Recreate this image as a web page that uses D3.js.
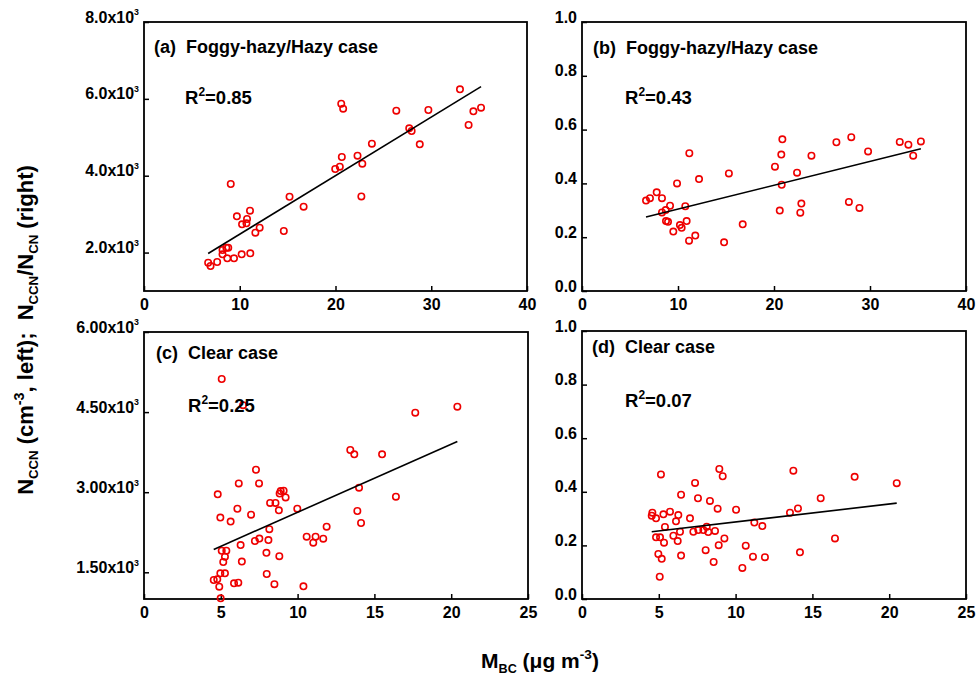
<!DOCTYPE html>
<html>
<head>
<meta charset="utf-8">
<script src="https://cdn.jsdelivr.net/npm/d3@7/dist/d3.min.js"></script>
<style>
body { margin: 0; background: #fff; }
text { font-family: "Liberation Sans", Arial, sans-serif; font-weight: bold; fill: #000; }
</style>
</head>
<body>
<script>
/* global d3 */

// (a) foggy-hazy / hazy case: M_BC vs N_CCN
var hazyBcA = [6.70, 6.95, 7.64, 8.20, 8.20, 8.60, 8.80, 8.70, 9.40, 10.20, 11.10, 9.06, 9.70, 10.24, 10.70, 10.76, 11.07, 11.63, 12.08, 14.60,
    15.20, 16.67, 19.97, 20.45, 20.66, 20.60, 20.80, 22.30, 22.80, 22.70, 23.80, 26.35, 27.70, 27.95, 28.80, 29.70, 33.00, 33.90, 34.40, 35.20];
var hazyNccn = [1737, 1651, 1755, 2067, 1955, 2127, 2127, 1850, 1850, 1955, 1981, 3785, 2944, 2735, 2762, 2874, 3090, 2517, 2647, 2561,
    3453, 3194, 4175, 4235, 4487, 5875, 5744, 4521, 4313, 3462, 4834, 5692, 5234, 5164, 4817, 5710, 6249, 5320, 5676, 5770];

// (b) foggy-hazy / hazy case: M_BC vs N_CCN/N_CN
var hazyBcB = [6.67, 7.08, 7.78, 8.33, 8.33, 8.72, 9.17, 8.75, 8.96, 9.51, 9.90, 10.20, 10.38, 10.76, 10.90, 11.18, 11.15, 11.80, 12.19,
    14.80, 15.30, 16.74, 20.10, 20.60, 20.76, 20.80, 20.87, 22.40, 22.74, 22.85, 23.90, 26.50, 27.80, 28.05, 28.90, 29.80, 33.10, 34.00, 34.50, 35.30];
var hazyRatio = [0.336, 0.345, 0.367, 0.345, 0.292, 0.301, 0.317, 0.260, 0.257, 0.221, 0.400, 0.245, 0.235, 0.315, 0.260, 0.512, 0.187, 0.206, 0.416,
    0.181, 0.437, 0.248, 0.462, 0.299, 0.507, 0.395, 0.564, 0.440, 0.291, 0.325, 0.503, 0.553, 0.331, 0.572, 0.309, 0.519, 0.554, 0.544, 0.503, 0.556];

// (c) clear case: M_BC vs N_CCN
var clearBcC = [5.06, 4.80, 4.97, 5.64, 6.08, 6.17, 6.29, 6.37, 6.97, 7.29, 7.49, 7.22, 7.51, 7.97, 7.99, 8.10, 8.16, 8.21, 8.49, 8.56,
    8.78, 8.81, 8.83, 8.90, 9.09, 9.22, 9.98, 10.38, 10.59, 11.02, 11.17, 11.67, 11.89, 13.43, 13.69, 13.89, 14.00, 14.13, 15.50, 16.40,
    17.66, 20.40, 5.06, 5.36, 5.27, 5.16, 4.97, 5.27, 4.54, 4.77, 4.90, 4.99, 5.86, 6.14, 6.45];
var clearNccn = [5120, 2960, 2525, 2450, 2690, 3165, 2010, 1700, 2580, 3420, 3165, 2086, 2132, 1864, 1468, 2103, 2308, 2800, 1278, 2800,
    2660, 1802, 2975, 3022, 3028, 2903, 2691, 1238, 2167, 2054, 2167, 2130, 2354, 3790, 3710, 2648, 3084, 2423, 3710, 2916,
    4489, 4601, 1904, 1904, 1792, 1693, 1481, 1481, 1356, 1369, 1230, 1012, 1294, 1306, 4630];

// (d) clear case: M_BC vs N_CCN/N_CN
var clearBcD = [4.54, 4.58, 4.82, 5.30, 5.14, 5.73, 6.27, 6.12, 6.45, 5.40, 4.82, 5.08, 5.34, 5.95, 6.23, 6.38, 4.97, 5.19, 5.06, 6.45,
    7.03, 7.36, 7.55, 7.25, 7.57, 7.90, 8.12, 8.22, 8.66, 8.33, 8.83, 8.05, 8.57, 8.90, 9.27, 8.94, 9.16, 10.03, 10.66, 10.44,
    11.13, 11.22, 11.74, 11.91, 13.54, 13.76, 14.06, 14.19, 15.54, 16.47, 17.75, 20.49];
var clearRatio = [0.311, 0.322, 0.301, 0.316, 0.465, 0.326, 0.313, 0.290, 0.389, 0.269, 0.230, 0.230, 0.210, 0.236, 0.216, 0.251, 0.168, 0.150, 0.083, 0.162,
    0.301, 0.433, 0.376, 0.251, 0.257, 0.257, 0.270, 0.250, 0.254, 0.366, 0.337, 0.182, 0.138, 0.201, 0.226, 0.485, 0.458, 0.333, 0.199, 0.116,
    0.158, 0.285, 0.272, 0.156, 0.322, 0.479, 0.338, 0.174, 0.376, 0.226, 0.456, 0.432];

// linear fits as [intercept, slope]
var fitA = [956, 152.3];
var fitB = [0.2156, 0.00888];
var fitC = [1348, 127.6];
var fitD = [0.2206, 0.00669];

var r2Values = ["0.85", "0.43", "0.25", "0.07"];
var panelTitles = ["(a)  Foggy-hazy/Hazy case", "(b)  Foggy-hazy/Hazy case", "(c)  Clear case", "(d)  Clear case"];

var xTicksHazy = [0, 10, 20, 30, 40];
var xTicksClear = [0, 5, 10, 15, 20, 25];
var yTicksA = [2000, 4000, 6000, 8000];
var yTicksC = [1500, 3000, 4500, 6000];
var yTicksRatio = [0, 0.2, 0.4, 0.6, 0.8, 1.0];

var width = 979, height = 675;

var svg = d3.select("body").append("svg")
        .attr("width", width)
        .attr("height", height);

function sciFmt(digits) {
    return function (v) {
        return [[(v / 1000).toFixed(digits) + "x10", "n"], ["3", "tick"]];
    };
}
function plainFmt(v) {
    return [[v.toFixed(1), "n"]];
}

var panels = [
    {x: hazyBcA, y: hazyNccn, fit: fitA, xd: [0, 40], yd: [1000, 8000], xt: xTicksHazy, yt: yTicksA, fmt: sciFmt(1),
        box: [144, 527, 22, 291], title: [10, 31], r2: [41, 82]},
    {x: hazyBcB, y: hazyRatio, fit: fitB, xd: [0, 40], yd: [0, 1], xt: xTicksHazy, yt: yTicksRatio, fmt: plainFmt,
        box: [582, 966, 22, 291], title: [11, 32], r2: [43, 82]},
    {x: clearBcC, y: clearNccn, fit: fitC, xd: [0, 25], yd: [1000, 6000], xt: xTicksClear, yt: yTicksC, fmt: sciFmt(2),
        box: [144, 528, 332, 599], title: [12, 27], r2: [44, 80]},
    {x: clearBcD, y: clearRatio, fit: fitD, xd: [0, 25], yd: [0, 1], xt: xTicksClear, yt: yTicksRatio, fmt: plainFmt,
        box: [582, 966, 331, 599], title: [10, 22], r2: [43, 76]}
];

// writes [text, kind] parts as tspans; kind: n normal, sub, sup, tick (small superscript)
function rich(text, parts, size) {
    var shift = 0;
    parts.forEach(function (p) {
        var t = text.append("tspan").text(p[0]);
        var target = 0, fs = size;
        if (p[1] === "sub") { target = size * 0.22; fs = size * 0.6; }
        if (p[1] === "sup") { target = -size * 0.42; fs = size * 0.65; }
        if (p[1] === "tick") { target = -size * 0.45; fs = size * 0.55; }
        t.attr("dy", target - shift).style("font-size", fs + "px");
        shift = target;
    });
}

panels.forEach(function (p, i) {
    var x = d3.scaleLinear().domain(p.xd).range([p.box[0], p.box[1]]);
    var y = d3.scaleLinear().domain(p.yd).range([p.box[3], p.box[2]]);
    var g = svg.append("g");

    var xAxis = g.append("g")
            .attr("transform", "translate(0," + p.box[3] + ")")
            .call(d3.axisBottom(x).tickValues(p.xt).tickSize(-5).tickSizeOuter(0).tickPadding(8).tickFormat(d3.format("d")));
    xAxis.select(".domain").remove();
    xAxis.selectAll("line").attr("stroke", "#000").attr("stroke-width", 1.5);
    xAxis.selectAll("text").style("font-size", "16px").attr("fill", "#000");

    var yAxis = g.append("g")
            .attr("transform", "translate(" + p.box[0] + ",0)")
            .call(d3.axisLeft(y).tickValues(p.yt).tickSize(-5).tickSizeOuter(0).tickPadding(5));
    yAxis.select(".domain").remove();
    yAxis.selectAll("line").attr("stroke", "#000").attr("stroke-width", 1.5);
    yAxis.selectAll("text")
            .attr("fill", "#000")
            .attr("dy", "0.36em")
            .style("font-size", "16px")
            .each(function (d) {
                var t = d3.select(this).text("");
                rich(t, p.fmt(d), 16);
            });

    g.append("rect")
            .attr("x", p.box[0])
            .attr("y", p.box[2])
            .attr("width", p.box[1] - p.box[0])
            .attr("height", p.box[3] - p.box[2])
            .attr("fill", "none")
            .attr("stroke", "#000")
            .attr("stroke-width", 1.8);

    g.append("g").selectAll("circle")
            .data(p.x)
            .enter().append("circle")
            .attr("cx", function (d) {
                return x(d);
            })
            .attr("cy", function (d, j) {
                return y(p.y[j]);
            })
            .attr("r", 3.2)
            .attr("fill", "none")
            .attr("stroke", "#ee0000")
            .attr("stroke-width", 1.6);

    var ext = d3.extent(p.x);
    g.append("line")
            .attr("x1", x(ext[0]))
            .attr("y1", y(p.fit[0] + p.fit[1] * ext[0]))
            .attr("x2", x(ext[1]))
            .attr("y2", y(p.fit[0] + p.fit[1] * ext[1]))
            .attr("stroke", "#000")
            .attr("stroke-width", 1.6);

    g.append("text")
            .attr("x", p.box[0] + p.title[0])
            .attr("y", p.box[2] + p.title[1])
            .style("font-size", "18px")
            .style("white-space", "pre")
            .text(panelTitles[i]);

    var r2 = g.append("text")
            .attr("x", p.box[0] + p.r2[0])
            .attr("y", p.box[2] + p.r2[1])
            .style("font-size", "18.5px");
    rich(r2, [["R", "n"], ["2", "sup"], ["=" + r2Values[i], "n"]], 18.5);
});

// shared axis titles
var yTitle = svg.append("text")
        .attr("transform", "translate(33,330) rotate(-90)")
        .attr("text-anchor", "middle")
        .style("font-size", "22px")
        .style("white-space", "pre");
rich(yTitle, [["N", "n"], ["CCN", "sub"], [" (cm", "n"], ["-3", "sup"], [", left);  N", "n"], ["CCN", "sub"],
    ["/N", "n"], ["CN", "sub"], [" (right)", "n"]], 22);

var xTitle = svg.append("text")
        .attr("x", 540)
        .attr("y", 668)
        .attr("text-anchor", "middle")
        .style("font-size", "21px");
rich(xTitle, [["M", "n"], ["BC", "sub"], [" (\u03bcg m", "n"], ["-3", "sup"], [")", "n"]], 21);
</script>
</body>
</html>
